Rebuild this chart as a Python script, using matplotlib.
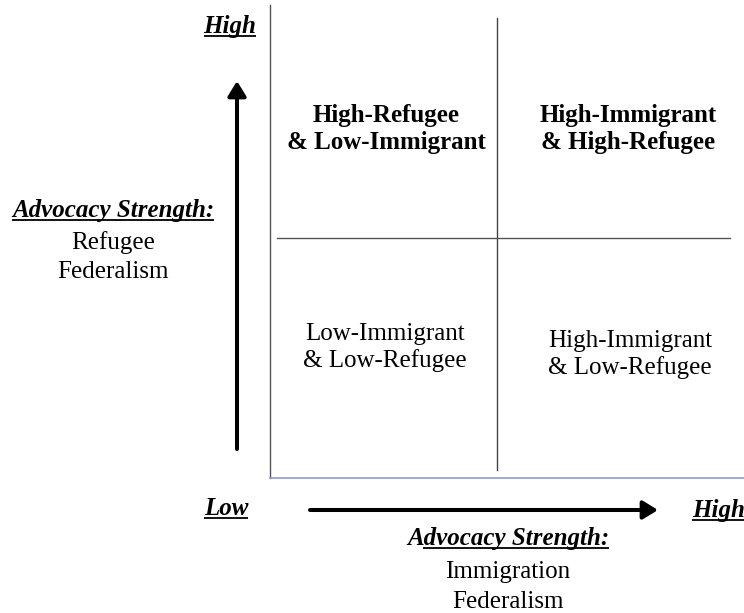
import matplotlib.pyplot as plt

plt.rcParams.update({
    "font.family": "Liberation Serif",
    "font.size": 18,
    "figure.dpi": 100,
})

W, H = 744, 613

# quadrant labels (two lines each)
QUAD_TOP_LEFT = ["High-Refugee", "& Low-Immigrant"]
QUAD_TOP_RIGHT = ["High-Immigrant", "& High-Refugee"]
QUAD_BOT_LEFT = ["Low-Immigrant", "& Low-Refugee"]
QUAD_BOT_RIGHT = ["High-Immigrant", "& Low-Refugee"]

# axis captions
Y_TITLE = "Advocacy Strength:"
Y_SUB = ["Refugee", "Federalism"]
X_TITLE = "Advocacy Strength:"
X_SUB = ["Immigration", "Federalism"]
HIGH_LABEL = "High"
LOW_LABEL = "Low"

fig = plt.figure(figsize=(W / 100, H / 100))
ax = fig.add_axes([0, 0, 1, 1])
ax.set_xlim(0, W)
ax.set_ylim(H, 0)
ax.axis("off")


def label(x, y, s, weight="normal", style="normal", underline=False,
          ha="center", skip=""):
    t = ax.text(x, y, s, ha=ha, va="baseline", fontweight=weight,
                fontstyle=style, color="black")
    if underline:
        fig.canvas.draw()
        inv = ax.transData.inverted()
        bb = t.get_window_extent().transformed(inv)
        x0 = bb.x0
        if skip:
            # leave the first letters without underline, as in the original
            tmp = ax.text(0, 0, skip, fontweight=weight, fontstyle=style)
            fig.canvas.draw()
            sb = tmp.get_window_extent().transformed(inv)
            x0 += sb.x1 - sb.x0
            tmp.remove()
        ax.plot([x0, bb.x1], [y + 3, y + 3], color="black", lw=1.3,
                solid_capstyle="butt")
    return t


# frame lines
ax.plot([270, 270], [5, 478], color="#555555", lw=1.0)
ax.plot([270, 744], [478, 478], color="#8a9ae0", lw=1.2)
ax.plot([497, 497], [18, 470], color="#444444", lw=1.0)
ax.plot([277, 730], [238, 238], color="#555555", lw=1.0)

# arrows
arrow = dict(arrowstyle="-|>,head_length=0.9,head_width=0.55",
             mutation_scale=10, lw=2.9, color="black", shrinkA=0, shrinkB=0)
ax.annotate("", xy=(237, 81), xytext=(237, 449), arrowprops=arrow)
ax.annotate("", xy=(658, 510), xytext=(310, 510), arrowprops=arrow)

# quadrant texts
for i, s in enumerate(QUAD_TOP_LEFT):
    label(386, 122 + 27 * i, s, weight="bold")
for i, s in enumerate(QUAD_TOP_RIGHT):
    label(628, 122 + 27 * i, s, weight="bold")
for i, s in enumerate(QUAD_BOT_LEFT):
    label(385, 340 + 27 * i, s)
for i, s in enumerate(QUAD_BOT_RIGHT):
    label(630, 347 + 27 * i, s)

# y axis captions
label(230, 33, HIGH_LABEL, weight="bold", style="italic", underline=True)
label(113, 217, Y_TITLE, weight="bold", style="italic", underline=True)
for i, s in enumerate(Y_SUB):
    label(113, 249 + 29 * i, s)

# x axis captions
label(226, 515, LOW_LABEL, weight="bold", style="italic", underline=True)
label(692, 517, HIGH_LABEL, weight="bold", style="italic", underline=True, ha="left")
label(508, 545, X_TITLE, weight="bold", style="italic", underline=True, skip="A")
for i, s in enumerate(X_SUB):
    label(508, 578 + 30 * i, s)

fig.savefig("out.png", dpi=100)
